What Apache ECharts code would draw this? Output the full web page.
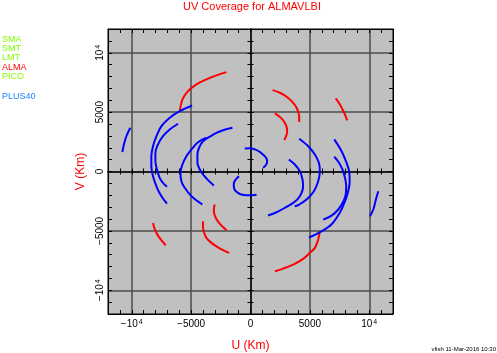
<!DOCTYPE html>
<html>
<head>
<meta charset="utf-8">
<script src="https://cdn.jsdelivr.net/npm/echarts@6/dist/echarts.min.js"></script>
<style>
html, body { margin: 0; padding: 0; background: #fff; }
#main { width: 497px; height: 353px; }
</style>
</head>
<body>
<div id="main"></div>
<script>
// tick labels on both axes (km), ^ marks a superscript
var tickValues = [-10000, -5000, 0, 5000, 10000];
var tickLabels = ['\u221210^4', '\u22125000', '0', '5000', '10^4'];
var stations = ['SMA', 'SMT', 'LMT', 'ALMA', 'PICO', 'PLUS40'];

// ALMA baselines (red), [u, v] in km
var alma1 = [[-5960, 5030], [-5730, 6070], [-5260, 6770], [-4550, 7340], [-3710, 7760], [-2870, 8090], [-2020, 8370]];
var alma1c = [[5840, -5030], [5700, -5730], [5420, -6430], [5000, -6850], [4430, -7360], [3590, -7840], [2750, -8180], [2050, -8400]];
var alma2 = [[1860, 6850], [2470, 6630], [3040, 6300], [3480, 5900], [3880, 5370], [4100, 4660], [4100, 4160]];
var alma2c = [[-4000, -4190], [-4000, -4610], [-3940, -5030], [-3710, -5590], [-3290, -6010], [-2870, -6300], [-2310, -6630], [-1800, -6850]];
var alma3 = [[2050, 4890], [2610, 4470], [2980, 3920], [3090, 3400], [3020, 3040], [2850, 2640]];
var alma3c = [[-3010, -2780], [-3090, -3200], [-3010, -3710], [-2650, -4330], [-2020, -4950]];
var alma4 = [[-8210, -4330], [-8070, -4830], [-7790, -5400], [-7500, -5790], [-7140, -6210]];
var alma4c = [[7170, 6150], [7440, 5790], [7720, 5290], [7950, 4810], [8140, 4300]];

// PLUS40 baselines (blue)
var plus1 = [[-10120, 3680], [-10450, 2980], [-10660, 2280], [-10790, 1630]];
var plus1c = [[10760, -1660], [10560, -2360], [10340, -3200], [10060, -3770]];
var plus2 = [[-4920, 5560], [-5960, 5080], [-6800, 4530], [-7500, 3820], [-7920, 2980], [-8210, 2130], [-8350, 1290], [-8350, 450], [-8210, -400], [-7870, -1370], [-7500, -2080], [-7030, -2700]];
var plus2c = [[7050, 2700], [7670, 1710], [8090, 730], [8310, 0], [8350, -840], [8200, -1770], [7950, -2530], [7530, -3460], [6810, -4470], [5930, -5060], [4920, -5560]];
var plus3 = [[-6100, 4020], [-6800, 3540], [-7370, 2980], [-7790, 2280], [-8010, 1580], [-8010, 870], [-7870, 170], [-7650, -530], [-7370, -950], [-7030, -1290]];
var plus3c = [[7050, 1240], [7440, 760], [7740, 170], [7950, -510], [8060, -1180], [8030, -1860], [7820, -2530], [7390, -3200], [6830, -3710], [6120, -4050]];
var plus4 = [[-3710, 2840], [-4420, 2470], [-4970, 1860], [-5400, 1290], [-5730, 590], [-5900, -110], [-5820, -820], [-5540, -1370], [-4970, -2080], [-4050, -2780]];
var plus4c = [[4100, 2760], [4860, 2130], [5420, 1430], [5760, 730], [5840, 30], [5700, -820], [5340, -1660], [4720, -2360], [4100, -2780], [3730, -2930]];
var plus5 = [[-1520, 3680], [-2310, 3480], [-2870, 3260], [-3430, 2930], [-4000, 2550], [-4330, 2000], [-4470, 1430], [-4470, 730], [-4270, 170], [-4000, -250], [-3570, -730], [-3090, -1180]];
var plus5c = [[3230, 1010], [3730, 590], [4160, 30], [4380, -670], [4430, -1240], [4300, -1800], [4010, -2280], [3590, -2640], [2890, -3060], [2190, -3430], [1480, -3710]];
var plus6 = [[-480, 1940], [-60, 1960], [360, 1860], [780, 1660], [1120, 1370], [1350, 1100], [1400, 820], [1290, 530], [1060, 310]];
var plus6c = [[-960, -400], [-1240, -670], [-1410, -1040], [-1380, -1430], [-1180, -1710], [-840, -1910], [-340, -2000], [170, -2000], [510, -1960]];

var redTracks = [alma1, alma1c, alma2, alma2c, alma3, alma3c, alma4, alma4c];
var blueTracks = [plus1, plus1c, plus2, plus2c, plus3, plus3c, plus4, plus4c, plus5, plus5c, plus6, plus6c];

// styles
var stationColors = ['#7fff00', '#7fff00', '#7fff00', '#ff0000', '#7fff00', '#1e80ff'];
var legendY = [40, 49, 58, 67.5, 77, 97];
var clear = 'rgba(0,0,0,0)';
var font = 'Liberation Sans, Arial, sans-serif';

function tickText(v) {
    var i = tickValues.indexOf(v);
    if (i < 0) return '';
    return tickLabels[i].replace(/\^(\d+)/, '{s|$1}');
}

var labelRich = { s: { fontSize: 7, lineHeight: 4, fontFamily: font, color: '#000', verticalAlign: 'top', padding: [0, 0, 0, 1] } };

function axis(extra) {
    var a = {
        type: 'value',
        min: -12000,
        max: 12000,
        interval: 1000,
        axisLine: { show: true, onZero: false, lineStyle: { color: '#000', width: 1 } },
        axisTick: { show: true, inside: true, length: 4, lineStyle: { color: '#000', width: 1 } },
        axisLabel: { show: false },
        splitLine: { show: false }
    };
    for (var k in extra) a[k] = extra[k];
    return a;
}

var zeroLine = { show: true, onZero: true, onZeroAxisIndex: 0, lineStyle: { color: '#1a1a1a', width: 1.5 } };
var majorGrid = { show: true, lineStyle: { color: [clear, clear, '#4d4d4d', clear, clear], width: 1.5 } };

var myChart = echarts.init(document.getElementById('main'));

var series = [];
redTracks.forEach(function (d) {
    series.push({ type: 'line', data: d, symbol: 'none', smooth: 0.35, silent: true, lineStyle: { color: '#ff0000', width: 2 } });
});
blueTracks.forEach(function (d) {
    series.push({ type: 'line', data: d, symbol: 'none', smooth: 0.35, silent: true, lineStyle: { color: '#0000ff', width: 2 } });
});

var graphics = [
    { type: 'text', left: 183, top: 1, style: { text: 'UV Coverage for ALMAVLBI', fill: '#ff0000', font: '11px ' + font } },
    { type: 'text', right: 1, top: 346, style: { text: 'vfish 11-Mar-2016 10:30', fill: '#000', font: '6px ' + font } }
];
stations.forEach(function (s, i) {
    graphics.push({ type: 'text', left: 2, top: legendY[i] - 4.5, style: { text: s, fill: stationColors[i], font: '9px ' + font } });
});

myChart.setOption({
    animation: false,
    grid: {
        left: 108, top: 29, width: 285, height: 285,
        outerBoundsMode: 'none', containLabel: false,
        show: true, backgroundColor: '#c0c0c0', borderColor: '#000', borderWidth: 1
    },
    graphic: graphics,
    xAxis: [
        axis({
            position: 'bottom',
            splitLine: majorGrid,
            axisLabel: { show: true, formatter: tickText, rich: labelRich, color: '#000', fontSize: 10, fontFamily: font, margin: 5 },
            name: 'U (Km)', nameLocation: 'middle', nameGap: 26,
            nameTextStyle: { color: '#ff0000', fontSize: 12, fontFamily: font }
        }),
        axis({ position: 'top' }),
        axis({ position: 'bottom', axisLine: zeroLine, axisTick: { inside: true, length: 3, lineStyle: { color: '#000' } } }),
        axis({ position: 'bottom', axisLine: zeroLine, axisTick: { inside: false, length: 3, lineStyle: { color: '#000' } } })
    ],
    yAxis: [
        axis({
            position: 'left',
            splitLine: majorGrid,
            axisLabel: { show: true, formatter: tickText, rich: labelRich, color: '#000', fontSize: 10, fontFamily: font, rotate: 90, margin: 3 },
            name: 'V (Km)', nameLocation: 'middle', nameGap: 16, nameRotate: 90,
            nameTextStyle: { color: '#ff0000', fontSize: 12, fontFamily: font }
        }),
        axis({ position: 'right' }),
        axis({ position: 'left', axisLine: zeroLine, axisTick: { inside: true, length: 3, lineStyle: { color: '#000' } } }),
        axis({ position: 'left', axisLine: zeroLine, axisTick: { inside: false, length: 3, lineStyle: { color: '#000' } } })
    ],
    series: series
});
</script>
</body>
</html>
